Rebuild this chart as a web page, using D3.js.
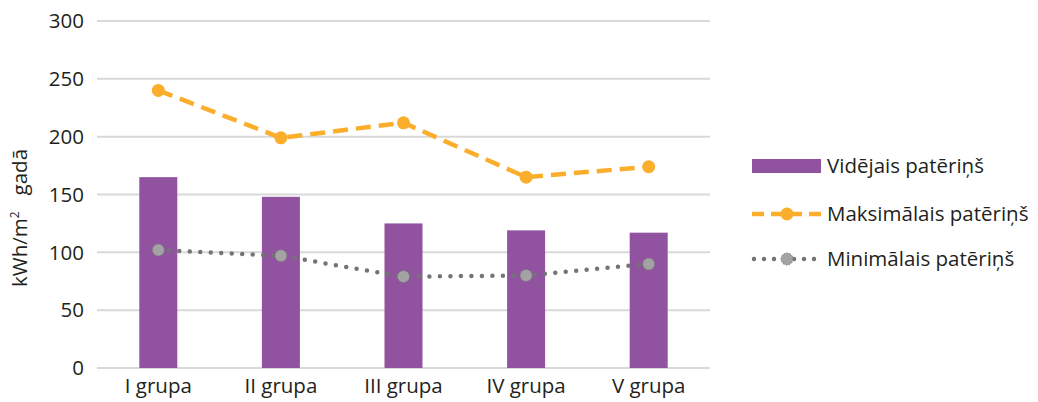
<!DOCTYPE html>
<html>
<head>
<meta charset="utf-8">
<script src="https://cdn.jsdelivr.net/npm/d3@7"></script>
<style>
  body { margin: 0; background: #fff; }
  text { font-family: "Open Sans", sans-serif; fill: #231f20; }
</style>
</head>
<body>
<svg id="chart" width="1038" height="402"></svg>
<script>
var groups = ["I grupa", "II grupa", "III grupa", "IV grupa", "V grupa"];
var avgValues = [165, 148, 125, 119, 117];
var maxValues = [240, 199, 212, 165, 174];
var minValues = [102, 97, 79, 80, 90];
var yTicks = [0, 50, 100, 150, 200, 250, 300];
var legendNames = ["Vidējais patēriņš", "Maksimālais patēriņš", "Minimālais patēriņš"];

var purple = "#9153a0", orange = "#fbad2c", grey = "#747474", greyFill = "#a3a3a3";

var svg = d3.select("#chart");
var plotL = 97, plotR = 710, plotT = 21, plotB = 368;
var fs = "20.5px";

var x = d3.scaleBand().domain(groups).range([plotL, plotR]);
var y = d3.scaleLinear().domain([0, 300]).range([plotB, plotT]);

// grid
svg.append("g").selectAll("line").data(yTicks).enter().append("line")
  .attr("x1", plotL).attr("x2", plotR)
  .attr("y1", d => y(d)).attr("y2", d => y(d))
  .attr("stroke", "#d9d9d9").attr("stroke-width", 2);

// y tick labels
svg.append("g").selectAll("text").data(yTicks).enter().append("text")
  .attr("x", 84).attr("y", d => y(d)).attr("dy", "0.35em")
  .attr("text-anchor", "end").style("font-size", fs)
  .text(d => d);

// x labels
svg.append("g").selectAll("text").data(groups).enter().append("text")
  .attr("x", d => x(d) + x.bandwidth() / 2).attr("y", 393)
  .attr("text-anchor", "middle").style("font-size", fs)
  .text(d => d);

// y axis title
svg.append("text")
  .attr("transform", "translate(27,218) rotate(-90)")
  .attr("text-anchor", "middle").style("font-size", fs)
  .html('kWh/m<tspan dy="-8" style="font-size:12px">2</tspan><tspan dy="8" xml:space="preserve">   gadā</tspan>');

// bars
var barW = 38;
svg.append("g").selectAll("rect").data(avgValues).enter().append("rect")
  .attr("x", (d, i) => x(groups[i]) + x.bandwidth() / 2 - barW / 2)
  .attr("y", d => y(d))
  .attr("width", barW)
  .attr("height", d => plotB - y(d))
  .attr("fill", purple);

var line = d3.line()
  .x((d, i) => x(groups[i]) + x.bandwidth() / 2)
  .y(d => y(d));

// max line
svg.append("path").datum(maxValues).attr("d", line)
  .attr("fill", "none").attr("stroke", orange).attr("stroke-width", 4.5)
  .attr("stroke-dasharray", "15,8");
svg.append("g").selectAll("circle").data(maxValues).enter().append("circle")
  .attr("cx", (d, i) => x(groups[i]) + x.bandwidth() / 2)
  .attr("cy", d => y(d)).attr("r", 6.5).attr("fill", orange);

// min line
svg.append("path").datum(minValues).attr("d", line)
  .attr("fill", "none").attr("stroke", grey).attr("stroke-width", 4.5)
  .attr("stroke-linecap", "round").attr("stroke-dasharray", "0,10.5");
svg.append("g").selectAll("circle").data(minValues).enter().append("circle")
  .attr("cx", (d, i) => x(groups[i]) + x.bandwidth() / 2)
  .attr("cy", d => y(d)).attr("r", 6)
  .attr("fill", greyFill).attr("stroke", grey).attr("stroke-width", 1)
  .attr("stroke-dasharray", "1.5,1.5");

// legend
var lg = svg.append("g");
var rows = [166, 214, 259];
lg.append("rect").attr("x", 752).attr("y", rows[0] - 7).attr("width", 69).attr("height", 14).attr("fill", purple);

lg.append("line").attr("x1", 752).attr("x2", 821).attr("y1", rows[1]).attr("y2", rows[1])
  .attr("stroke", orange).attr("stroke-width", 4.5).attr("stroke-dasharray", "12,7");
lg.append("circle").attr("cx", 787).attr("cy", rows[1]).attr("r", 6.5).attr("fill", orange);

lg.append("line").attr("x1", 754).attr("x2", 821).attr("y1", rows[2]).attr("y2", rows[2])
  .attr("stroke", grey).attr("stroke-width", 4.5).attr("stroke-linecap", "round").attr("stroke-dasharray", "0,10");
lg.append("circle").attr("cx", 787).attr("cy", rows[2]).attr("r", 6)
  .attr("fill", greyFill).attr("stroke", grey).attr("stroke-width", 1).attr("stroke-dasharray", "1.5,1.5");

lg.selectAll("text.lbl").data(legendNames).enter().append("text")
  .attr("x", 827).attr("y", (d, i) => rows[i]).attr("dy", "0.35em")
  .style("font-size", fs)
  .text(d => d);
</script>
</body>
</html>
